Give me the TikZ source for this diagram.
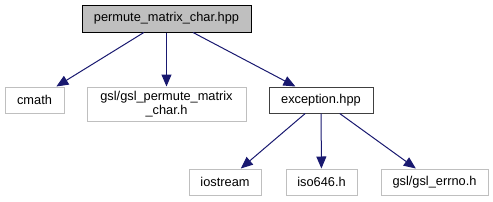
\documentclass[tikz,border=0pt]{standalone}
\usepackage{fontspec}
\setmainfont{Liberation Sans}
\usetikzlibrary{arrows.meta}
\definecolor{edgeblue}{HTML}{191970}
\definecolor{boxgray}{HTML}{BFBFBF}
\definecolor{boxdark}{HTML}{404040}

\begin{document}
\begin{tikzpicture}[x=0.75pt,y=-0.75pt,>={Triangle[length=9pt,width=7.5pt]},
  font=\fontsize{9.6pt}{10.5pt}\selectfont]
\tikzset{file/.style={draw=boxgray,line width=0.75pt,inner sep=0pt,align=center,minimum height=19.5pt},
  edge/.style={->,draw=edgeblue,line width=0.75pt}}
\useasboundingbox (0,0) rectangle (493,201);
% ---------- files ----------
\node[file,draw=black,fill=boxgray,minimum width=126.75pt,minimum height=20.25pt] (root) at (166.5,18.5) {permute\_matrix\_char.hpp};
\node[file,minimum width=44.25pt] (cmath) at (34.5,100) {cmath};
\node[file,minimum width=119.25pt,minimum height=25.5pt] (gslperm) at (166.5,104) {gsl/gsl\_permute\_matrix\\\_char.h};
\node[file,draw=boxdark,minimum width=78pt] (except) at (321,100) {exception.hpp};
\node[file,minimum width=54pt] (iostream) at (225,182) {iostream};
\node[file,minimum width=53.25pt] (iso) at (321.5,182) {iso646.h};
\node[file,minimum width=80.25pt] (errno) at (434.5,182) {gsl/gsl\_errno.h};
% ---------- includes ----------
\draw[edge] (root) -- (cmath);
\draw[edge] (root) -- (gslperm);
\draw[edge] (root) -- (except);
\draw[edge] (except) -- (iostream);
\draw[edge] (except) -- (iso);
\draw[edge] (except) -- (errno);
\end{tikzpicture}
\end{document}
